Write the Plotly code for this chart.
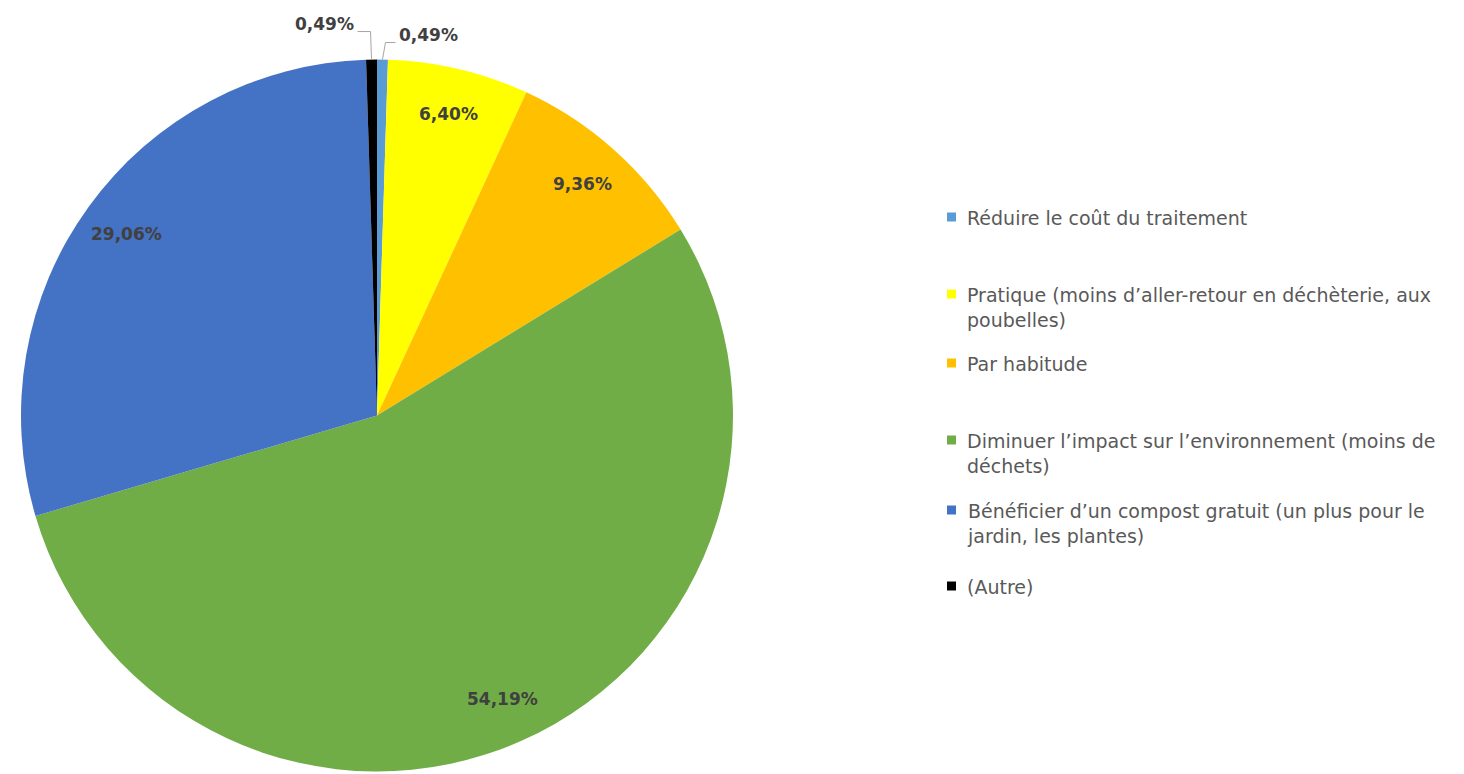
import math
import plotly.graph_objects as go

# ---- data ----
categories = [
    "Réduire le coût du traitement",
    "Pratique (moins d’aller-retour en déchèterie, aux<br>poubelles)",
    "Par habitude",
    "Diminuer l’impact sur l’environnement (moins de<br>déchets)",
    "Bénéficier d’un compost gratuit (un plus pour le<br>jardin, les plantes)",
    "(Autre)",
]
values = [0.49, 6.40, 9.36, 54.19, 29.06, 0.49]
value_labels = ["0,49%", "6,40%", "9,36%", "54,19%", "29,06%", "0,49%"]
colors = ["#5B9BD5", "#FFFF00", "#FFC000", "#70AD47", "#4472C4", "#000000"]

# ---- layout geometry (page pixels; the page body has an 8px margin) ----
OFF = 8
W, H = 1464 - OFF, 774 - OFF
CX, CY, R = 377, 415.5, 356


def px(x):
    return (x - OFF) / W


def py(y):
    return 1 - (y - OFF) / H


fig = go.Figure()
fig.add_trace(go.Pie(
    labels=[c.replace("<br>", " ") for c in categories],
    values=values,
    sort=False,
    direction="clockwise",
    rotation=0,
    marker=dict(colors=colors, line=dict(width=0)),
    textinfo="none",
    hoverinfo="label+percent",
    showlegend=False,
    domain=dict(x=[px(CX - R), px(CX + R)], y=[py(CY + R), py(CY - R)]),
))

annotations = []
shapes = []

total = sum(values)
cum = 0.0
mid_angles = []
for v in values:
    mid_angles.append((cum + v / 2) / total * 2 * math.pi)
    cum += v

label_font = dict(family="DejaVu Sans", size=17, color="#404040")

for i, (v, lab, a) in enumerate(zip(values, value_labels, mid_angles)):
    if v / total > 0.02:
        r = 0.87 * R
        x = CX + r * math.sin(a)
        y = CY - r * math.cos(a)
        annotations.append(dict(
            x=px(x), y=py(y), xref="paper", yref="paper",
            text="<b>%s</b>" % lab, showarrow=False, font=label_font,
            xanchor="center", yanchor="middle",
        ))
    else:
        # small slice: outside label with elbow leader line
        ex = CX + R * math.sin(a)
        ey = CY - R * math.cos(a)
        side = 1 if math.sin(a) > 0 else -1
        elbow_y = ey - (17 if side > 0 else 28)
        kx = ex + 3 if side > 0 else ex - 1
        end_x = kx + 10 if side > 0 else kx - 13
        shapes.append(dict(
            type="path", xref="paper", yref="paper",
            path="M %f,%f L %f,%f L %f,%f" % (
                px(ex), py(ey), px(kx), py(elbow_y), px(end_x), py(elbow_y)),
            line=dict(color="#A6A6A6", width=1),
        ))
        annotations.append(dict(
            x=px(end_x + side * 2), y=py(elbow_y - 8), xref="paper", yref="paper",
            text="<b>%s</b>" % lab, showarrow=False, font=label_font,
            xanchor="left" if side > 0 else "right", yanchor="middle",
        ))

# ---- legend (custom, Excel-like) ----
legend_y = [217, 294, 363, 440, 510, 586]
leg_fs = 19
line_h = 1.3 * leg_fs
for cat, col, ly in zip(categories, colors, legend_y):
    shapes.append(dict(
        type="rect", xref="paper", yref="paper",
        x0=px(947), x1=px(956), y0=py(ly + 4.5), y1=py(ly - 4.5),
        fillcolor=col, line=dict(width=0),
    ))
    annotations.append(dict(
        x=px(965), y=py(ly - line_h / 2), xref="paper", yref="paper",
        text=cat, showarrow=False, align="left",
        xanchor="left", yanchor="top",
        font=dict(family="DejaVu Sans", size=leg_fs, color="#595959"),
    ))

fig.update_layout(
    width=W, height=H,
    margin=dict(l=0, r=0, t=0, b=0),
    paper_bgcolor="white", plot_bgcolor="white",
    annotations=annotations, shapes=shapes,
    showlegend=False,
)

fig.write_html("out.html")
